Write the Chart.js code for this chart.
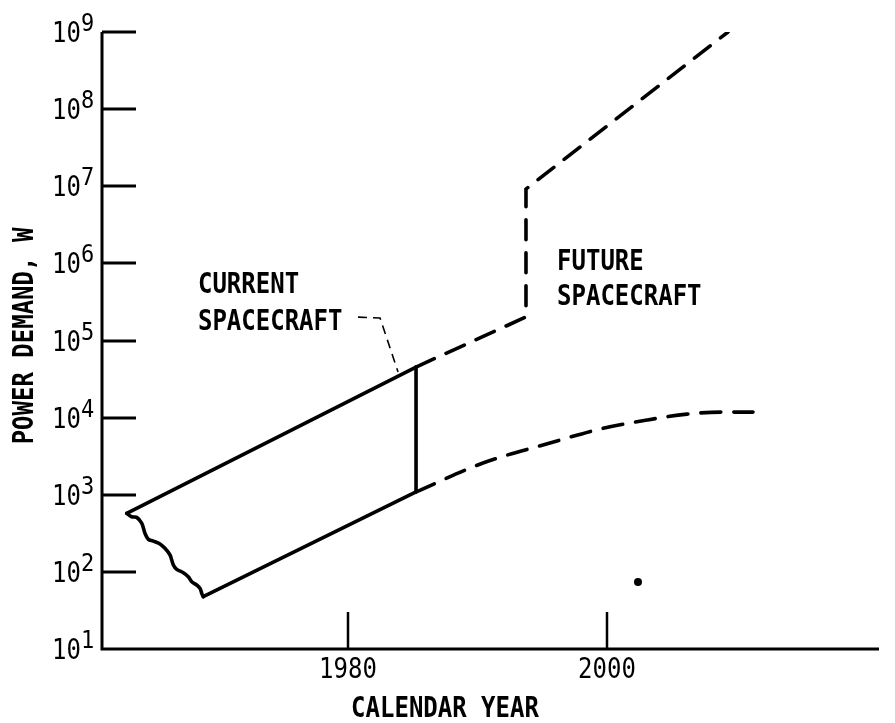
<!DOCTYPE html>
<html>
<head>
<meta charset="utf-8">
<script src="https://cdn.jsdelivr.net/npm/chart.js@4.4.1/dist/chart.umd.min.js"></script>
<style>
  html, body { margin: 0; padding: 0; background: #fff; }
</style>
</head>
<body>
<canvas id="chart" width="895" height="723"></canvas>
<script>
// axis ticks
var xTicks = [1980, 2000];
var yExponents = [1, 2, 3, 4, 5, 6, 7, 8, 9];

// current spacecraft band (solid)
var upperYears = [1962.91, 1985.25];
var upperWatts = [574, 45300];
var splitYears = [1985.25, 1985.25];
var splitWatts = [45300, 1087];
var lowerYears = [1968.82, 1985.25];
var lowerWatts = [47.6, 1087];
// ragged left edge of the band
var edgeYears = [1962.91, 1963.29, 1963.68, 1964.07, 1964.32, 1964.58, 1964.96, 1965.48, 1965.86, 1966.25,
                 1966.51, 1966.77, 1967.28, 1967.66, 1967.93, 1968.31, 1968.57, 1968.70, 1968.82];
var edgeWatts = [574, 519, 509, 427, 316, 264, 251, 230, 202, 166,
                 123, 108, 97.5, 86.5, 74.6, 67.6, 61.2, 52.7, 47.6];

// future spacecraft (dashed)
var futureTopYears = [1985.25, 1993.74, 1993.74, 2009.34];
var futureTopWatts = [45300, 202000, 9200000, 1000000000];
var futureLowYears = [1985.25, 1990.42, 1995.59, 1999.46, 2003.09, 2006.17, 2008.95, 2011.27];
var futureLowWatts = [1087, 2580, 4690, 7110, 9310, 11100, 11800, 11800];

// leader from the label to the band
var leaderYears = [1980.77, 1982.47, 1983.86];
var leaderWatts = [201000, 196000, 39100];

// stray speck on the original
var speckYears = [2002.39];
var speckWatts = [74];

// notes (left edge, baseline)
var noteText = ['CURRENT', 'SPACECRAFT', 'FUTURE', 'SPACECRAFT'];
var noteYears = [1968.41, 1968.41, 1996.14, 1996.14];
var noteWatts = [413000, 137000, 820000, 288000];

var MONO = '"DejaVu Sans Mono", "Liberation Mono", monospace';

function pts(xs, ys) {
  var out = [];
  for (var i = 0; i < xs.length; i++) out.push({x: xs[i], y: ys[i]});
  return out;
}

function solid(data, tension) {
  return { data: data, borderColor: '#000', borderWidth: 3.6, pointRadius: 0,
           tension: tension || 0, borderJoinStyle: 'round', borderCapStyle: 'round', fill: false };
}

function dashed(data, extra) {
  var d = { data: data, borderColor: '#000', borderWidth: 3.6, pointRadius: 0,
            borderDash: [20, 13], borderCapStyle: 'round', fill: false };
  for (var k in extra) d[k] = extra[k];
  return d;
}

// lettering: monospaced, stretched a bit vertically like the stencil text
function letters(ctx, text, x, y, align, size, weight, angle) {
  ctx.save();
  ctx.translate(x, y);
  if (angle) ctx.rotate(angle);
  ctx.scale(1, 1.15);
  ctx.font = weight + ' ' + size + 'px ' + MONO;
  ctx.textAlign = align;
  ctx.textBaseline = 'alphabetic';
  ctx.fillText(text, 0, 0);
  ctx.restore();
}

var axesPlugin = {
  id: 'paperAxes',
  afterDraw: function(chart) {
    var ctx = chart.ctx, xs = chart.scales.x, ys = chart.scales.y, a = chart.chartArea;
    ctx.save();
    ctx.strokeStyle = '#000';
    ctx.fillStyle = '#000';
    ctx.lineWidth = 3;
    ctx.beginPath();
    ctx.moveTo(a.left, a.top);
    ctx.lineTo(a.left, a.bottom);
    ctx.lineTo(a.right, a.bottom);
    ctx.stroke();

    // y ticks and labels
    yExponents.forEach(function(e) {
      var py = Math.round(ys.getPixelForValue(Math.pow(10, e)));
      if (e > 1) {
        ctx.beginPath();
        ctx.moveTo(a.left, py);
        ctx.lineTo(a.left + 34, py);
        ctx.stroke();
      }
      letters(ctx, '10', a.left - 21, py + 10, 'right', 24, 'normal');
      letters(ctx, String(e), a.left - 21, py - 1, 'left', 22, 'normal');
    });

    // x ticks and labels
    ctx.lineWidth = 2.5;
    xTicks.forEach(function(t) {
      var px = Math.round(xs.getPixelForValue(t));
      ctx.beginPath();
      ctx.moveTo(px, a.bottom);
      ctx.lineTo(px, a.bottom - 37);
      ctx.stroke();
      letters(ctx, String(t), px, a.bottom + 29, 'center', 24, 'normal');
    });

    // axis titles
    letters(ctx, 'CALENDAR YEAR', 445, 717, 'center', 24, 'bold');
    letters(ctx, 'POWER DEMAND, W', 33, 336, 'center', 24, 'bold', -Math.PI / 2);

    // notes
    for (var i = 0; i < noteText.length; i++) {
      letters(ctx, noteText[i], xs.getPixelForValue(noteYears[i]), ys.getPixelForValue(noteWatts[i]), 'left', 24, 'bold');
    }
    ctx.restore();
  }
};

new Chart(document.getElementById('chart'), {
  type: 'line',
  data: {
    datasets: [
      solid(pts(upperYears, upperWatts)),
      solid(pts(splitYears, splitWatts)),
      solid(pts(lowerYears, lowerWatts)),
      solid(pts(edgeYears, edgeWatts), 0.35),
      dashed(pts(futureTopYears, futureTopWatts), {}),
      dashed(pts(futureLowYears, futureLowWatts), {cubicInterpolationMode: 'monotone'}),
      dashed(pts(leaderYears, leaderWatts), {borderWidth: 1.6, borderDash: [9, 6], borderCapStyle: 'butt'}),
      { data: pts(speckYears, speckWatts), showLine: false, pointRadius: 4,
        pointBackgroundColor: '#000', pointBorderColor: '#000', pointBorderWidth: 0 }
    ]
  },
  options: {
    responsive: false,
    devicePixelRatio: 1,
    animation: false,
    layout: { padding: { left: 102, right: 16, top: 32, bottom: 74 } },
    scales: {
      x: { type: 'linear', min: 1961, max: 2021, display: false },
      y: { type: 'logarithmic', min: 10, max: 1e9, display: false }
    },
    plugins: { legend: { display: false }, tooltip: { enabled: false } }
  },
  plugins: [axesPlugin]
});
</script>
</body>
</html>
